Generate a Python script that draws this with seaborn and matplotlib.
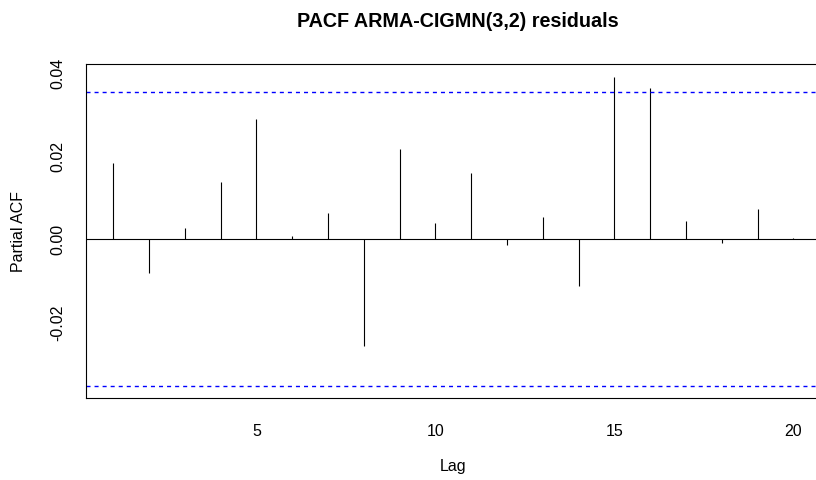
import matplotlib
matplotlib.use("Agg")
import matplotlib.pyplot as plt
import seaborn as sns
import numpy as np

# Partial autocorrelations of the fitted model residuals, lags 1..20
lags = list(range(1, 21))
pacf_values = [0.0182, -0.0082, 0.0025, 0.0137, 0.0287, 0.0007, 0.0063, -0.0258,
               0.0216, 0.0039, 0.0158, -0.0016, 0.0053, -0.0114, 0.0389, 0.0363,
               0.0043, -0.0011, 0.0072, 0.0003]
ci_bound = 0.0353  # approximate 95% significance bound
x_ticks = [5, 10, 15, 20]
y_ticks = [-0.02, 0.00, 0.02, 0.04]
y_tick_labels = ["-0.02", "0.00", "0.02", "0.04"]

sns.set_style("white")
plt.rcParams["font.family"] = ["Liberation Sans", "DejaVu Sans"]
plt.rcParams["text.color"] = "black"
plt.rcParams["axes.labelcolor"] = "black"
plt.rcParams["xtick.color"] = "black"
plt.rcParams["ytick.color"] = "black"

W, H = 816, 481
fig = plt.figure(figsize=(W / 100, H / 100), dpi=100)
# plot region in pixels (right edge runs a little past the image)
left_px, right_px, top_px, bottom_px = 86, 820.5, 65.3, 399.3
ax = fig.add_axes([left_px / W, 1 - bottom_px / H,
                   (right_px - left_px) / W, (bottom_px - top_px) / H])

lw = 0.8
ax.vlines(lags, 0, pacf_values, color="black", linewidth=lw)
ax.axhline(0, color="black", linewidth=lw)
for b in (ci_bound, -ci_bound):
    ax.axhline(b, color="#0000FF", linewidth=1.0, linestyle=(0, (2.9, 2.9)))

# axis limits padded by 4% like the usual time-series plot
xr = (min(lags), max(lags))
xpad = 0.04 * (xr[1] - xr[0])
ax.set_xlim(xr[0] - xpad, xr[1] + xpad)
ymin = min(min(pacf_values), -ci_bound)
ymax = max(max(pacf_values), ci_bound)
ypad = 0.04 * (ymax - ymin)
ax.set_ylim(ymin - ypad, ymax + ypad)

ax.set_xticks(x_ticks)
ax.set_xticklabels([str(t) for t in x_ticks])
ax.set_yticks(y_ticks)
ax.set_yticklabels(y_tick_labels, rotation=90, va="center")

for s in ax.spines.values():
    s.set_visible(True)
    s.set_color("black")
    s.set_linewidth(lw)

ax.tick_params(axis="both", which="major", direction="out", length=5.8, width=lw,
               color="black", labelsize=11.5, labelcolor="black")
ax.tick_params(axis="x", pad=12)
ax.tick_params(axis="y", pad=9)

fig.text(457.5 / W, 1 - 21.5 / H, "PACF ARMA-CIGMN(3,2) residuals",
         ha="center", va="center", fontsize=14.2, fontweight="bold")
fig.text(453 / W, 1 - 466 / H, "Lag", ha="center", va="center", fontsize=11.5)
fig.text(19 / W, 1 - 232 / H, "Partial ACF", ha="center", va="center",
         rotation=90, fontsize=11.5)

fig.savefig("out.png", dpi=100)
